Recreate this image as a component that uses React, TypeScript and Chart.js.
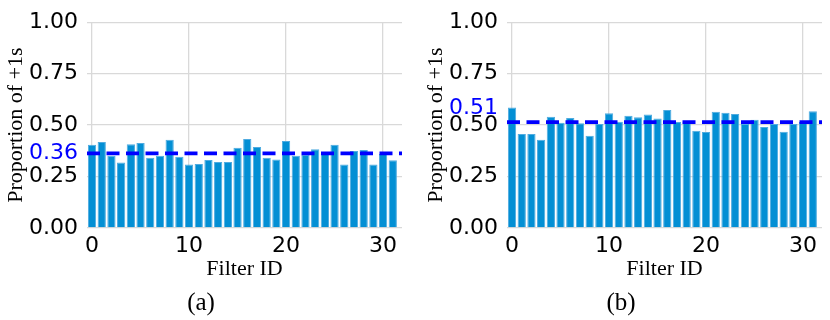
import React, { useEffect, useRef } from "react";
import { Chart, registerables } from "chart.js";

Chart.register(...registerables);

// ---- Data ----
const filterIds: number[] = Array.from({ length: 32 }, (_, i) => i);

const valuesA: number[] = [
  0.404, 0.418, 0.351, 0.318, 0.407, 0.413, 0.341, 0.351, 0.429, 0.346,
  0.308, 0.311, 0.330, 0.321, 0.321, 0.390, 0.432, 0.394, 0.341, 0.333,
  0.423, 0.351, 0.356, 0.383, 0.360, 0.404, 0.308, 0.374, 0.379, 0.308,
  0.360, 0.329,
];

const valuesB: number[] = [
  0.585, 0.457, 0.457, 0.429, 0.541, 0.512, 0.535, 0.509, 0.448, 0.505,
  0.557, 0.516, 0.545, 0.538, 0.551, 0.532, 0.573, 0.515, 0.515, 0.473,
  0.466, 0.565, 0.560, 0.554, 0.505, 0.526, 0.491, 0.505, 0.468, 0.505,
  0.515, 0.567,
];

const meanA = 0.363;
const meanB = 0.5145;
// where the blue mean label sits on the y axis (data units)
const meanLabelPosA = 0.363;
const meanLabelPosB = 0.584;

const yTickValues: number[] = [0, 0.25, 0.5, 0.75, 1.0];
const xTickStep = 10;
const xMin = -0.52;
const xMax = 31.95;

const yTitle = "Proportion of +1s";
const xTitle = "Filter ID";
const captionA = "(a)";
const captionB = "(b)";

const BAR_COLOR = "#038fd4";
const BAR_EDGE = "#4fabe0";
const MEAN_COLOR = "#0000ff";
const GRID_COLOR = "#d9d9d9";
const TICK_FONT = { family: "DejaVu Sans", size: 22 };
const SERIF_FONT = { family: "Liberation Serif", size: 22, weight: "normal" as const };
const CAPTION_FONT = { family: "Liberation Serif", size: 25, weight: "normal" as const };

function makeConfig(values: number[], mean: number, labelPos: number, caption: string): any {
  return {
    data: {
      datasets: [
        {
          type: "line",
          data: [
            { x: xMin, y: mean },
            { x: xMax, y: mean },
          ],
          borderColor: MEAN_COLOR,
          borderWidth: 3.7,
          borderDash: [13, 6.5],
          pointRadius: 0,
          order: 0,
        },
        {
          type: "bar",
          data: values.map((v, i) => ({ x: filterIds[i], y: v })),
          backgroundColor: BAR_COLOR,
          borderColor: BAR_EDGE,
          borderWidth: 1,
          barPercentage: 0.85,
          categoryPercentage: 1.0,
          order: 1,
        },
      ],
    },
    options: {
      responsive: false,
      animation: false,
      events: [],
      layout: { padding: { top: 15, left: 0, right: 8, bottom: 1.5 } },
      plugins: {
        legend: { display: false },
        tooltip: { enabled: false },
        title: {
          display: true,
          position: "bottom",
          text: caption,
          color: "#000",
          font: CAPTION_FONT,
          padding: { top: 4.5, bottom: 0 },
        },
      },
      scales: {
        x: {
          type: "linear",
          min: xMin,
          max: xMax,
          offset: false,
          border: { display: false },
          grid: { color: GRID_COLOR, lineWidth: 1.3, drawTicks: false, offset: false },
          ticks: {
            stepSize: xTickStep,
            includeBounds: false,
            color: "#000",
            font: TICK_FONT,
            padding: 5,
            maxRotation: 0,
            callback: (v: number) => String(v),
          },
          title: {
            display: true,
            text: xTitle,
            color: "#000",
            font: SERIF_FONT,
            padding: { top: 0, bottom: 1.3 },
          },
          afterFit: (s: any) => {
            s.height = 56;
          },
        },
        y: {
          type: "linear",
          min: 0,
          max: 1,
          border: { display: false },
          grid: {
            color: (ctx: any) =>
              ctx.tick && ctx.tick.value === labelPos ? "rgba(0,0,0,0)" : GRID_COLOR,
            lineWidth: 1.3,
            drawTicks: false,
          },
          afterBuildTicks: (s: any) => {
            s.ticks = [...yTickValues, labelPos]
              .sort((a, b) => a - b)
              .map((v) => ({ value: v }));
          },
          ticks: {
            autoSkip: false,
            font: TICK_FONT,
            padding: 9,
            color: (ctx: any) =>
              ctx.tick && ctx.tick.value === labelPos ? MEAN_COLOR : "#000",
            callback: (v: number) =>
              v === labelPos ? mean.toFixed(2) : Number(v).toFixed(2),
          },
          title: {
            display: true,
            text: yTitle,
            color: "#000",
            font: SERIF_FONT,
            padding: { top: 3, bottom: 0 },
          },
          afterFit: (s: any) => {
            s.width = 87;
          },
        },
      },
    },
  };
}

function Panel({ values, mean, labelPos, caption, left }: any) {
  const ref = useRef<HTMLCanvasElement | null>(null);
  useEffect(() => {
    if (!ref.current) return;
    const chart = new Chart(ref.current, makeConfig(values, mean, labelPos, caption));
    return () => chart.destroy();
  }, [values, mean, labelPos, caption]);
  return (
    <canvas
      ref={ref}
      width={410}
      height={320}
      style={{ position: "absolute", left, top: 0, width: 410, height: 320 }}
    />
  );
}

export default function App() {
  return (
    <div
      style={{
        position: "absolute",
        left: 0,
        top: 0,
        width: 830,
        height: 320,
        background: "#fff",
        overflow: "hidden",
      }}
    >
      <Panel values={valuesA} mean={meanA} labelPos={meanLabelPosA} caption={captionA} left={0} />
      <Panel values={valuesB} mean={meanB} labelPos={meanLabelPosB} caption={captionB} left={420} />
    </div>
  );
}
